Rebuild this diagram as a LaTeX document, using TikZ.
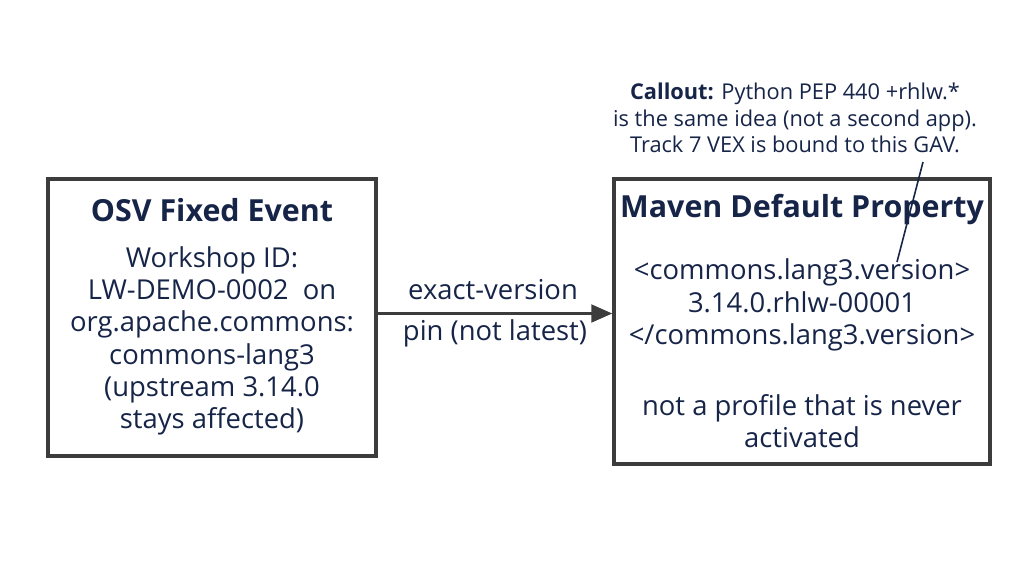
\documentclass[tikz,border=0pt]{standalone}
\usepackage{fontspec}
\setmainfont{Open Sans}
\usetikzlibrary{positioning,arrows.meta}
\definecolor{navy}{RGB}{22, 36, 72}
\definecolor{boxgray}{RGB}{60, 60, 60}

\begin{document}
\begin{tikzpicture}[x=0.02cm,y=-0.02cm,
    box/.style={draw=boxgray,line width=1.9pt,minimum width=328*0.02cm,minimum height=277*0.02cm,inner sep=0pt},
    title/.style={text=navy,font=\fontsize{17.3}{20}\selectfont\bfseries},
    body/.style={text=navy,align=center,font=\fontsize{15.6}{18.4}\selectfont},
    note/.style={text=navy,align=center,font=\fontsize{12.4}{15}\selectfont}]
        \useasboundingbox (0,0) rectangle (1024,571);
        \node[box] (osv) at (212,317.5) {};
        \node[box,minimum width=376*0.02cm,minimum height=285*0.02cm] (mvn) at (802,321.5) {};

        \node[title] (osvT) at (212,210) {OSV Fixed Event};
        \node[body] (osvB) at (212,341) {Workshop ID:\\LW-DEMO-0002\ \ on\\org.apache.commons:\\commons-lang3\\(upstream 3.14.0\\stays affected)};

        \node[title] (mvnT) at (802,210) {Maven Default Property};
        \node[body] (mvnB) at (802,305) {<commons.lang3.version>\\3.14.0.rhlw-00001\\</commons.lang3.version>};
        \node[body] (mvnN) at (802,421) {not a profile that is never\\activated};

        \node[note] (callout) at (795,118) {\textbf{Callout:} Python PEP 440 +rhlw.*\\is the same idea (not a second app).\\Track 7 VEX is bound to this GAV.};
        \coordinate (cTop) at (923,162);
        \coordinate (cEnd) at (897,262);
        \draw[navy,line width=0.9pt] (cTop) -- (cEnd);

        \draw[boxgray,line width=1.9pt,-{Triangle[length=12pt,width=10pt]}] (osv.east) ++(0,-4) -- ([yshift=4*0.02cm]mvn.west |- osv.east);
        \node[body] (lblA) at (493,290) {exact-version};
        \node[body] (lblB) at (495,333) {pin (not latest)};
    \end{tikzpicture}
\end{document}
